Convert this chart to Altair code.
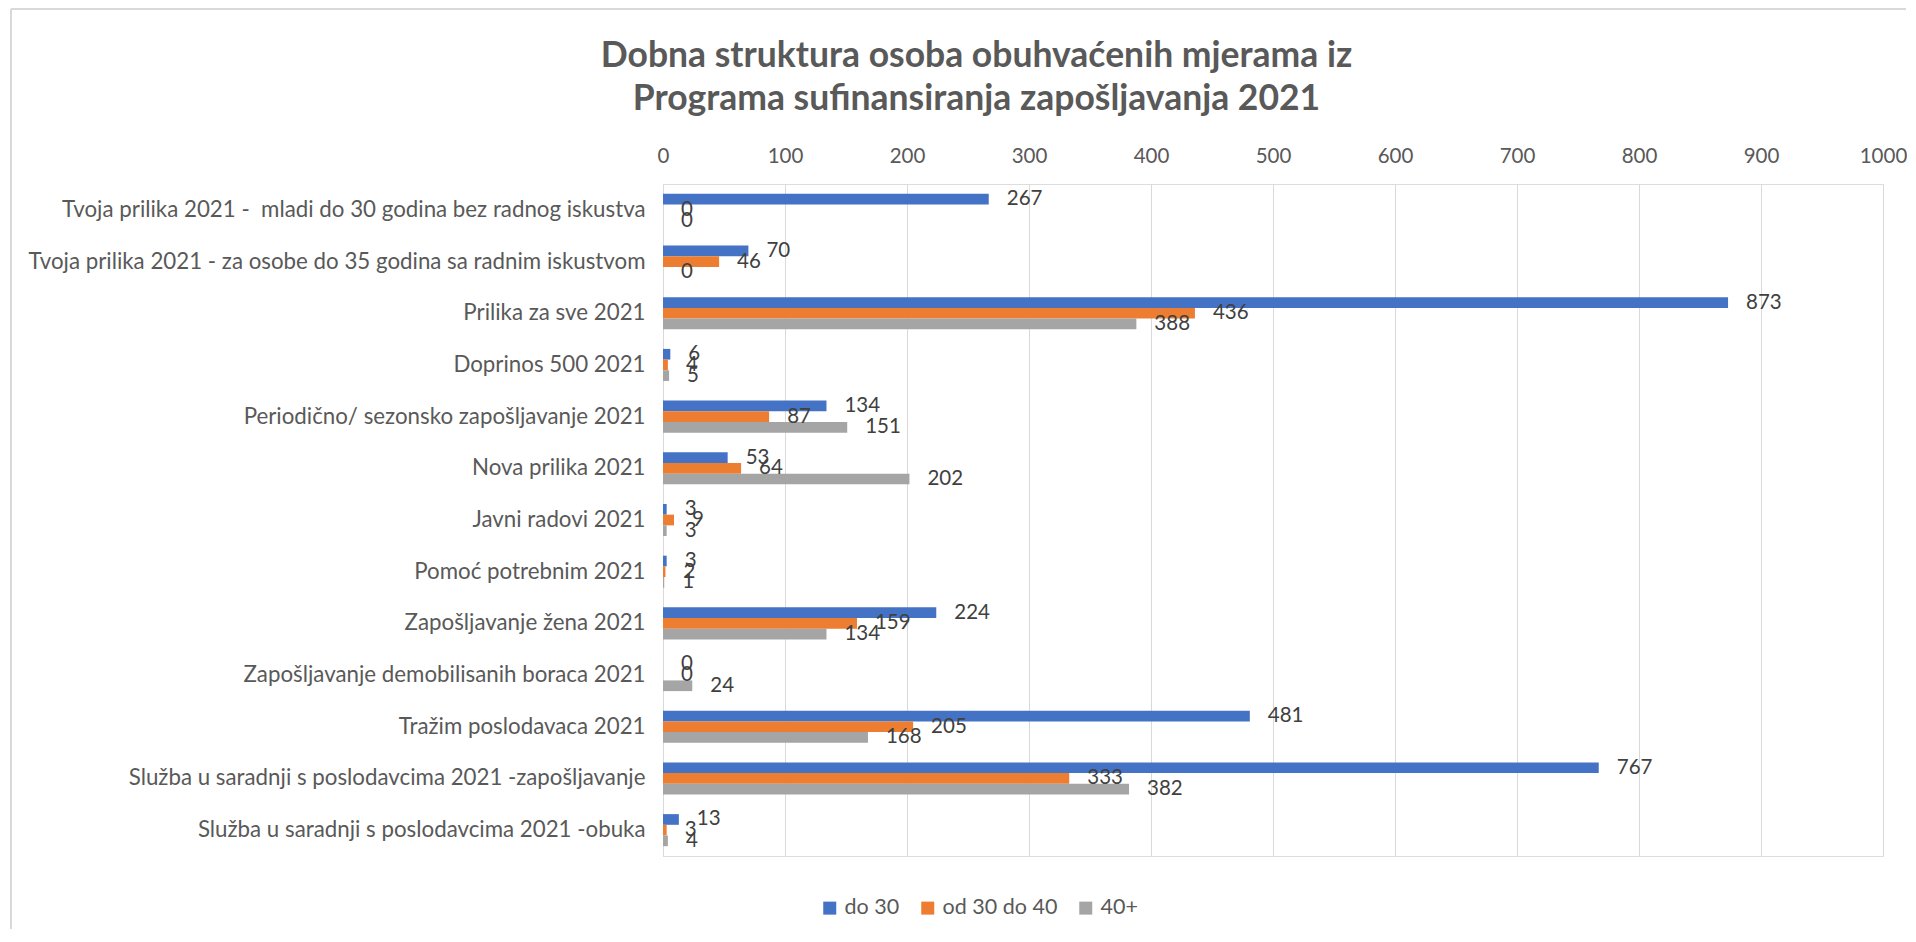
import altair as alt
import pandas as pd

categories = [
    "Tvoja prilika 2021 -\u00a0 mladi do 30 godina bez radnog iskustva",
    "Tvoja prilika 2021 - za osobe do 35 godina sa radnim iskustvom",
    "Prilika za sve 2021",
    "Doprinos 500 2021",
    "Periodično/ sezonsko zapošljavanje 2021",
    "Nova prilika 2021",
    "Javni radovi 2021",
    "Pomoć potrebnim 2021",
    "Zapošljavanje žena 2021",
    "Zapošljavanje demobilisanih boraca 2021",
    "Tražim poslodavaca 2021",
    "Služba u saradnji s poslodavcima 2021 -zapošljavanje",
    "Služba u saradnji s poslodavcima 2021 -obuka",
]
series = ["do 30", "od 30 do 40", "40+"]
do30 = [267, 70, 873, 6, 134, 53, 3, 3, 224, 0, 481, 767, 13]
od30do40 = [0, 46, 436, 4, 87, 64, 9, 2, 159, 0, 205, 333, 3]
plus40 = [0, 0, 388, 5, 151, 202, 3, 1, 134, 24, 168, 382, 4]
colors = ["#4472C4", "#ED7D31", "#A5A5A5"]
x_ticks = [0, 100, 200, 300, 400, 500, 600, 700, 800, 900, 1000]

rows = []
for s, vals in zip(series, [do30, od30do40, plus40]):
    for c, v in zip(categories, vals):
        rows.append({"kategorija": c, "grupa": s, "vrijednost": v})
df = pd.DataFrame(rows)

FONT = "Lato"
BORDER = "#D9D9D9"

y_enc = alt.Y("kategorija:N", sort=categories, title=None,
              scale=alt.Scale(paddingInner=0.38, paddingOuter=0.19),
              axis=alt.Axis(labelFontSize=22.3, labelColor="#595959", labelLimit=800,
                            labelPadding=18, ticks=False, domainColor=BORDER,
                            labelFont=FONT))
yoff = alt.YOffset("grupa:N", sort=series, scale=alt.Scale(paddingInner=0))
x_enc = alt.X("vrijednost:Q", title=None,
              scale=alt.Scale(domain=[0, 1000], nice=False),
              axis=alt.Axis(orient="top", values=x_ticks, format="d", labelFontSize=20.5,
                            labelColor="#595959", grid=True, gridColor=BORDER,
                            labelFlush=False, labelOverlap=False,
                            domain=False, ticks=False, labelPadding=18, labelFont=FONT))

bars = alt.Chart(df).mark_bar().encode(
    y=y_enc,
    yOffset=yoff,
    x=x_enc,
    color=alt.Color("grupa:N", sort=series, title=None,
                    scale=alt.Scale(domain=series, range=colors),
                    legend=alt.Legend(orient="none", direction="horizontal",
                                      legendX=156, legendY=713,
                                      symbolType="square", symbolSize=169,
                                      symbolStrokeWidth=0,
                                      labelFontSize=21.5, labelColor="#595959",
                                      labelFont=FONT, columnPadding=17)),
)

labels = alt.Chart(df).mark_text(align="left", baseline="middle", dx=18,
                                 fontSize=20.5, color="#404040", font=FONT).encode(
    y=alt.Y("kategorija:N", sort=categories),
    yOffset=yoff,
    x=alt.X("vrijednost:Q"),
    text=alt.Text("vrijednost:Q"),
)

# light grey chart-area frame (decorative, like the spreadsheet chart border)
frame_left = alt.Chart().mark_rule(color=BORDER, strokeWidth=2).encode(
    x=alt.value(-652), y=alt.value(-175), y2=alt.value(745))
frame_top = alt.Chart().mark_rule(color=BORDER, strokeWidth=2).encode(
    x=alt.value(-652), x2=alt.value(1243), y=alt.value(-175))

chart = alt.layer(bars, labels, frame_left, frame_top).properties(
    width=1220,
    height=672,
    padding={"left": 2, "top": 0, "right": 0, "bottom": 0},
    title=alt.TitleParams(
        ["Dobna struktura osoba obuhvaćenih mjerama iz",
         "Programa sufinansiranja zapošljavanja 2021"],
        fontSize=35.5, font=FONT, fontWeight="bold", color="#595959",
        lineHeight=43, anchor="middle", frame="bounds", offset=30, dx=18, dy=139),
).configure_view(stroke=None).configure(font=FONT)

chart.save("out.html", embed_options={"renderer": "svg", "actions": False})
